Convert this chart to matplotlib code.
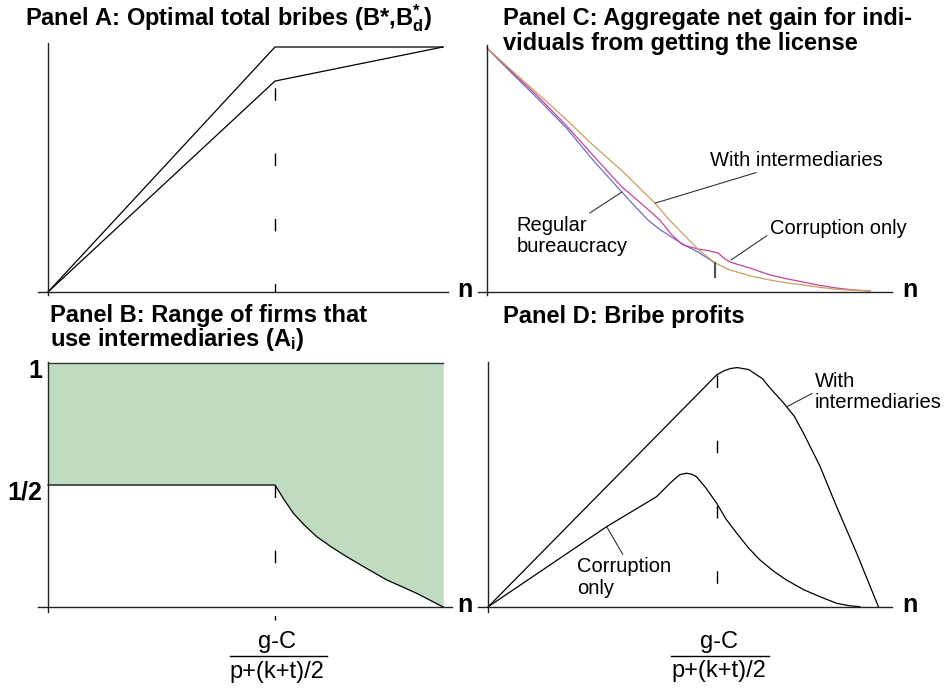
import matplotlib
matplotlib.use("Agg")
import matplotlib.pyplot as plt
from matplotlib.transforms import ScaledTranslation

plt.rcParams['font.family'] = ['Liberation Sans', 'DejaVu Sans']
plt.rcParams['mathtext.fontset'] = 'custom'
plt.rcParams['mathtext.rm'] = 'Liberation Sans:bold'
plt.rcParams['mathtext.it'] = 'Liberation Sans:bold'
plt.rcParams['mathtext.bf'] = 'Liberation Sans:bold'

# ---------------- data ----------------
threshold = 1.0  # n = (g-C)/(p+(k+t)/2)

# Panel A: optimal total bribes
n_A = [0.0, 1.0, 1.74]
bribe_B_star = [0.0, 1.0, 1.0]
bribe_B_d_star = [0.0, 0.861, 1.0]

# Panel B: range of firms that use intermediaries
n_B = [0.0, 1.0, 1.04, 1.081, 1.13, 1.184, 1.25, 1.316, 1.40, 1.492, 1.56,
       1.624, 1.741]
A_i_lower = [0.5, 0.5, 0.44, 0.384, 0.335, 0.288, 0.245, 0.206, 0.16, 0.111,
             0.083, 0.056, 0.0]
A_i_upper = 1.0
B_ticks = [0.5, 1.0]
B_ticklabels = ['1/2', '1']

# Panel C: aggregate net gain
n_C_regular = [0.0, 0.1, 0.22, 0.35, 0.47, 0.59, 0.65, 0.706, 0.76, 0.816,
               0.87, 0.925, 1.0]
gain_regular = [1.0, 0.905, 0.795, 0.67, 0.535, 0.411, 0.35, 0.295, 0.255,
                0.221, 0.19, 0.164, 0.119]
n_C_corrupt = [0.0, 0.1, 0.22, 0.35, 0.47, 0.59, 0.68, 0.758, 0.81, 0.859,
               0.925, 0.97, 1.013, 1.04, 1.066, 1.11, 1.154, 1.2, 1.241,
               1.31, 1.386, 1.46, 1.535, 1.61, 1.68]
gain_corrupt = [1.0, 0.91, 0.805, 0.68, 0.555, 0.432, 0.36, 0.295, 0.235,
                0.193, 0.176, 0.170, 0.160, 0.138, 0.123, 0.11, 0.098, 0.083,
                0.070, 0.055, 0.041, 0.027, 0.016, 0.008, 0.004]
n_C_interm = [0.0, 0.1, 0.22, 0.35, 0.45, 0.6, 0.737, 0.80, 0.87, 0.925, 1.0,
              1.066, 1.154, 1.241, 1.31, 1.387, 1.46, 1.534, 1.61, 1.68]
gain_interm = [1.0, 0.915, 0.815, 0.705, 0.615, 0.49, 0.364, 0.295, 0.228,
               0.176, 0.119, 0.090, 0.066, 0.049, 0.038, 0.029, 0.019, 0.011,
               0.007, 0.005]
C_tick = [0.061, 0.119]

# Panel D: bribe profits
n_D_interm = [0.0, 0.9, 1.0, 1.03, 1.06, 1.09, 1.14, 1.175, 1.2, 1.23, 1.292,
              1.34, 1.379, 1.452, 1.525, 1.613, 1.708]
profit_interm = [0.0, 0.855, 0.95, 0.966, 0.976, 0.98, 0.972, 0.95, 0.935,
                 0.90, 0.836, 0.78, 0.713, 0.576, 0.41, 0.219, 0.0]
n_D_corrupt = [0.0, 0.518, 0.737, 0.80, 0.838, 0.867, 0.89, 0.911, 0.95, 1.0,
               1.04, 1.088, 1.14, 1.19, 1.25, 1.306, 1.38, 1.452, 1.525, 1.58,
               1.627]
profit_corrupt = [0.0, 0.328, 0.451, 0.51, 0.541, 0.547, 0.543, 0.533, 0.49,
                  0.424, 0.36, 0.301, 0.24, 0.191, 0.145, 0.109, 0.07, 0.041,
                  0.014, 0.004, 0.0]

# ---------------- layout helpers ----------------
W, H = 945, 688
fig = plt.figure(figsize=(W / 100, H / 100), dpi=100)


def fx(px):
    return px / W


def fy(py):
    return 1 - py / H


def make_axes(L, R, T, Bt, x0, ux, y0, uy):
    ax = fig.add_axes([fx(L), fy(Bt), (R - L) / W, (Bt - T) / H])
    ax.set_xlim((L - x0) / ux, (R - x0) / ux)
    ax.set_ylim((y0 - Bt) / uy, (y0 - T) / uy)
    for s in ['top', 'right']:
        ax.spines[s].set_visible(False)
    ax.spines['left'].set_position(('data', 0))
    ax.spines['bottom'].set_position(('data', 0))
    for s in ['left', 'bottom']:
        ax.spines[s].set_color('#222222')
        ax.spines[s].set_linewidth(1.0)
    ax.set_xticks([])
    ax.set_yticks([])
    ax.patch.set_alpha(0)
    return ax


LW = 0.9
DASH = (0, (9, 38))
title_kw = dict(fontsize=17, fontweight='bold', va='baseline', ha='left')
ann_kw = dict(fontsize=14.5, va='center', ha='left')
n_kw = dict(fontsize=18, fontweight='bold', va='baseline', ha='left')
frac_kw = dict(fontsize=17, ha='center', va='baseline')

# ---------------- Panel A ----------------
axA = make_axes(38, 448, 43, 295, 48, 227, 292, 245)
axA.plot(n_A, bribe_B_star, color='black', lw=LW)
axA.plot(n_A, bribe_B_d_star, color='black', lw=LW)
axA.plot([threshold, threshold], [0, max(bribe_B_star)], color='black',
         lw=1.0, linestyle=(3, (9, 38)))
fig.text(fx(25), fy(25), r'Panel A: Optimal total bribes (B*,B$^{*}_{d}$)', **title_kw)
fig.text(fx(457), fy(297), 'n', **n_kw)

# ---------------- Panel B ----------------
axB = make_axes(38, 452, 362, 612, 48, 227, 607, 244)
axB.fill_between(n_B, A_i_lower, A_i_upper, color='#c0dcc0', lw=0)
axB.plot(n_B, A_i_lower, color='black', lw=LW)
axB.plot([n_B[0], n_B[-1]], [A_i_upper, A_i_upper], color='#333333', lw=1.0)
axB.plot([threshold, threshold], [A_i_lower[1], -0.055], color='black',
         lw=1.0, linestyle=DASH, clip_on=False)
axB.set_yticks(B_ticks)
axB.set_yticklabels(B_ticklabels, fontsize=18, fontweight='bold')
axB.tick_params(axis='y', length=0, pad=4)
for lbl in axB.get_yticklabels():
    lbl.set_transform(lbl.get_transform() + ScaledTranslation(0, -0.05, fig.dpi_scale_trans))
fig.text(fx(50), fy(322), 'Panel B: Range of firms that', **title_kw)
fig.text(fx(50), fy(346), r'use intermediaries (A$_{i}$)', **title_kw)
fig.text(fx(457), fy(612), 'n', **n_kw)
axB.text(threshold + 0.01, -0.17, 'g-C', **frac_kw)
axB.plot([threshold - 0.2, threshold + 0.23], [-0.2, -0.2], color='black', lw=1.0, clip_on=False)
axB.text(threshold + 0.01, -0.29, 'p+(k+t)/2', **frac_kw)

# ---------------- Panel C ----------------
axC = make_axes(478, 892, 45, 295, 487, 228, 292, 244)
axC.plot(n_C_regular, gain_regular, color='#6f6fc0', lw=LW)
axC.plot(n_C_corrupt, gain_corrupt, color='#c4449c', lw=LW)
axC.plot(n_C_interm, gain_interm, color='#c8a060', lw=LW)
axC.plot([threshold, threshold], C_tick, color='#555555', lw=1.6)
fig.text(fx(503), fy(25), 'Panel C: Aggregate net gain for indi-', **title_kw)
fig.text(fx(503), fy(50), 'viduals from getting the license', **title_kw)
fig.text(fx(902), fy(297), 'n', **n_kw)
axC.annotate('With intermediaries', xy=(0.737, 0.364), xytext=(0.98, 0.54),
             arrowprops=dict(arrowstyle='-', color='#333333', lw=0.8, shrinkA=0, shrinkB=0),
             **ann_kw)
axC.annotate('Regular\nbureaucracy', xy=(0.592, 0.41), xytext=(0.13, 0.23),
             arrowprops=dict(arrowstyle='-', color='#333333', lw=0.8, shrinkA=0, shrinkB=0,
                             relpos=(0.62, 1.0)),
             linespacing=1.15, **ann_kw)
axC.annotate('Corruption only', xy=(1.07, 0.131), xytext=(1.24, 0.262),
             arrowprops=dict(arrowstyle='-', color='#333333', lw=0.8, shrinkA=0, shrinkB=0,
                             relpos=(0.0, 0.2)),
             **ann_kw)

# ---------------- Panel D ----------------
axD = make_axes(478, 892, 362, 612, 488.3, 228.4, 606.7, 244)
axD.plot(n_D_interm, profit_interm, color='black', lw=LW)
axD.plot(n_D_corrupt, profit_corrupt, color='black', lw=LW)
axD.plot([threshold, threshold], [profit_interm[2], -0.05], color='black',
         lw=1.0, linestyle=DASH, clip_on=False)
fig.text(fx(503), fy(323), 'Panel D: Bribe profits', **title_kw)
fig.text(fx(902), fy(612), 'n', **n_kw)
axD.annotate('With\nintermediaries', xy=(1.308, 0.82), xytext=(1.43, 0.88),
             arrowprops=dict(arrowstyle='-', color='#333333', lw=0.8, shrinkA=0, shrinkB=0,
                             relpos=(0.0, 0.5)),
             linespacing=1.15, **ann_kw)
axD.annotate('Corruption\nonly', xy=(0.519, 0.327), xytext=(0.39, 0.12),
             arrowprops=dict(arrowstyle='-', color='#333333', lw=0.8, shrinkA=0, shrinkB=0,
                             relpos=(0.5, 1.0)),
             linespacing=1.15, **ann_kw)
axD.text(threshold + 0.01, -0.17, 'g-C', **frac_kw)
axD.plot([threshold - 0.2, threshold + 0.23], [-0.2, -0.2], color='black', lw=1.0, clip_on=False)
axD.text(threshold + 0.01, -0.29, 'p+(k+t)/2', **frac_kw)

fig.savefig('out.png', dpi=100)
